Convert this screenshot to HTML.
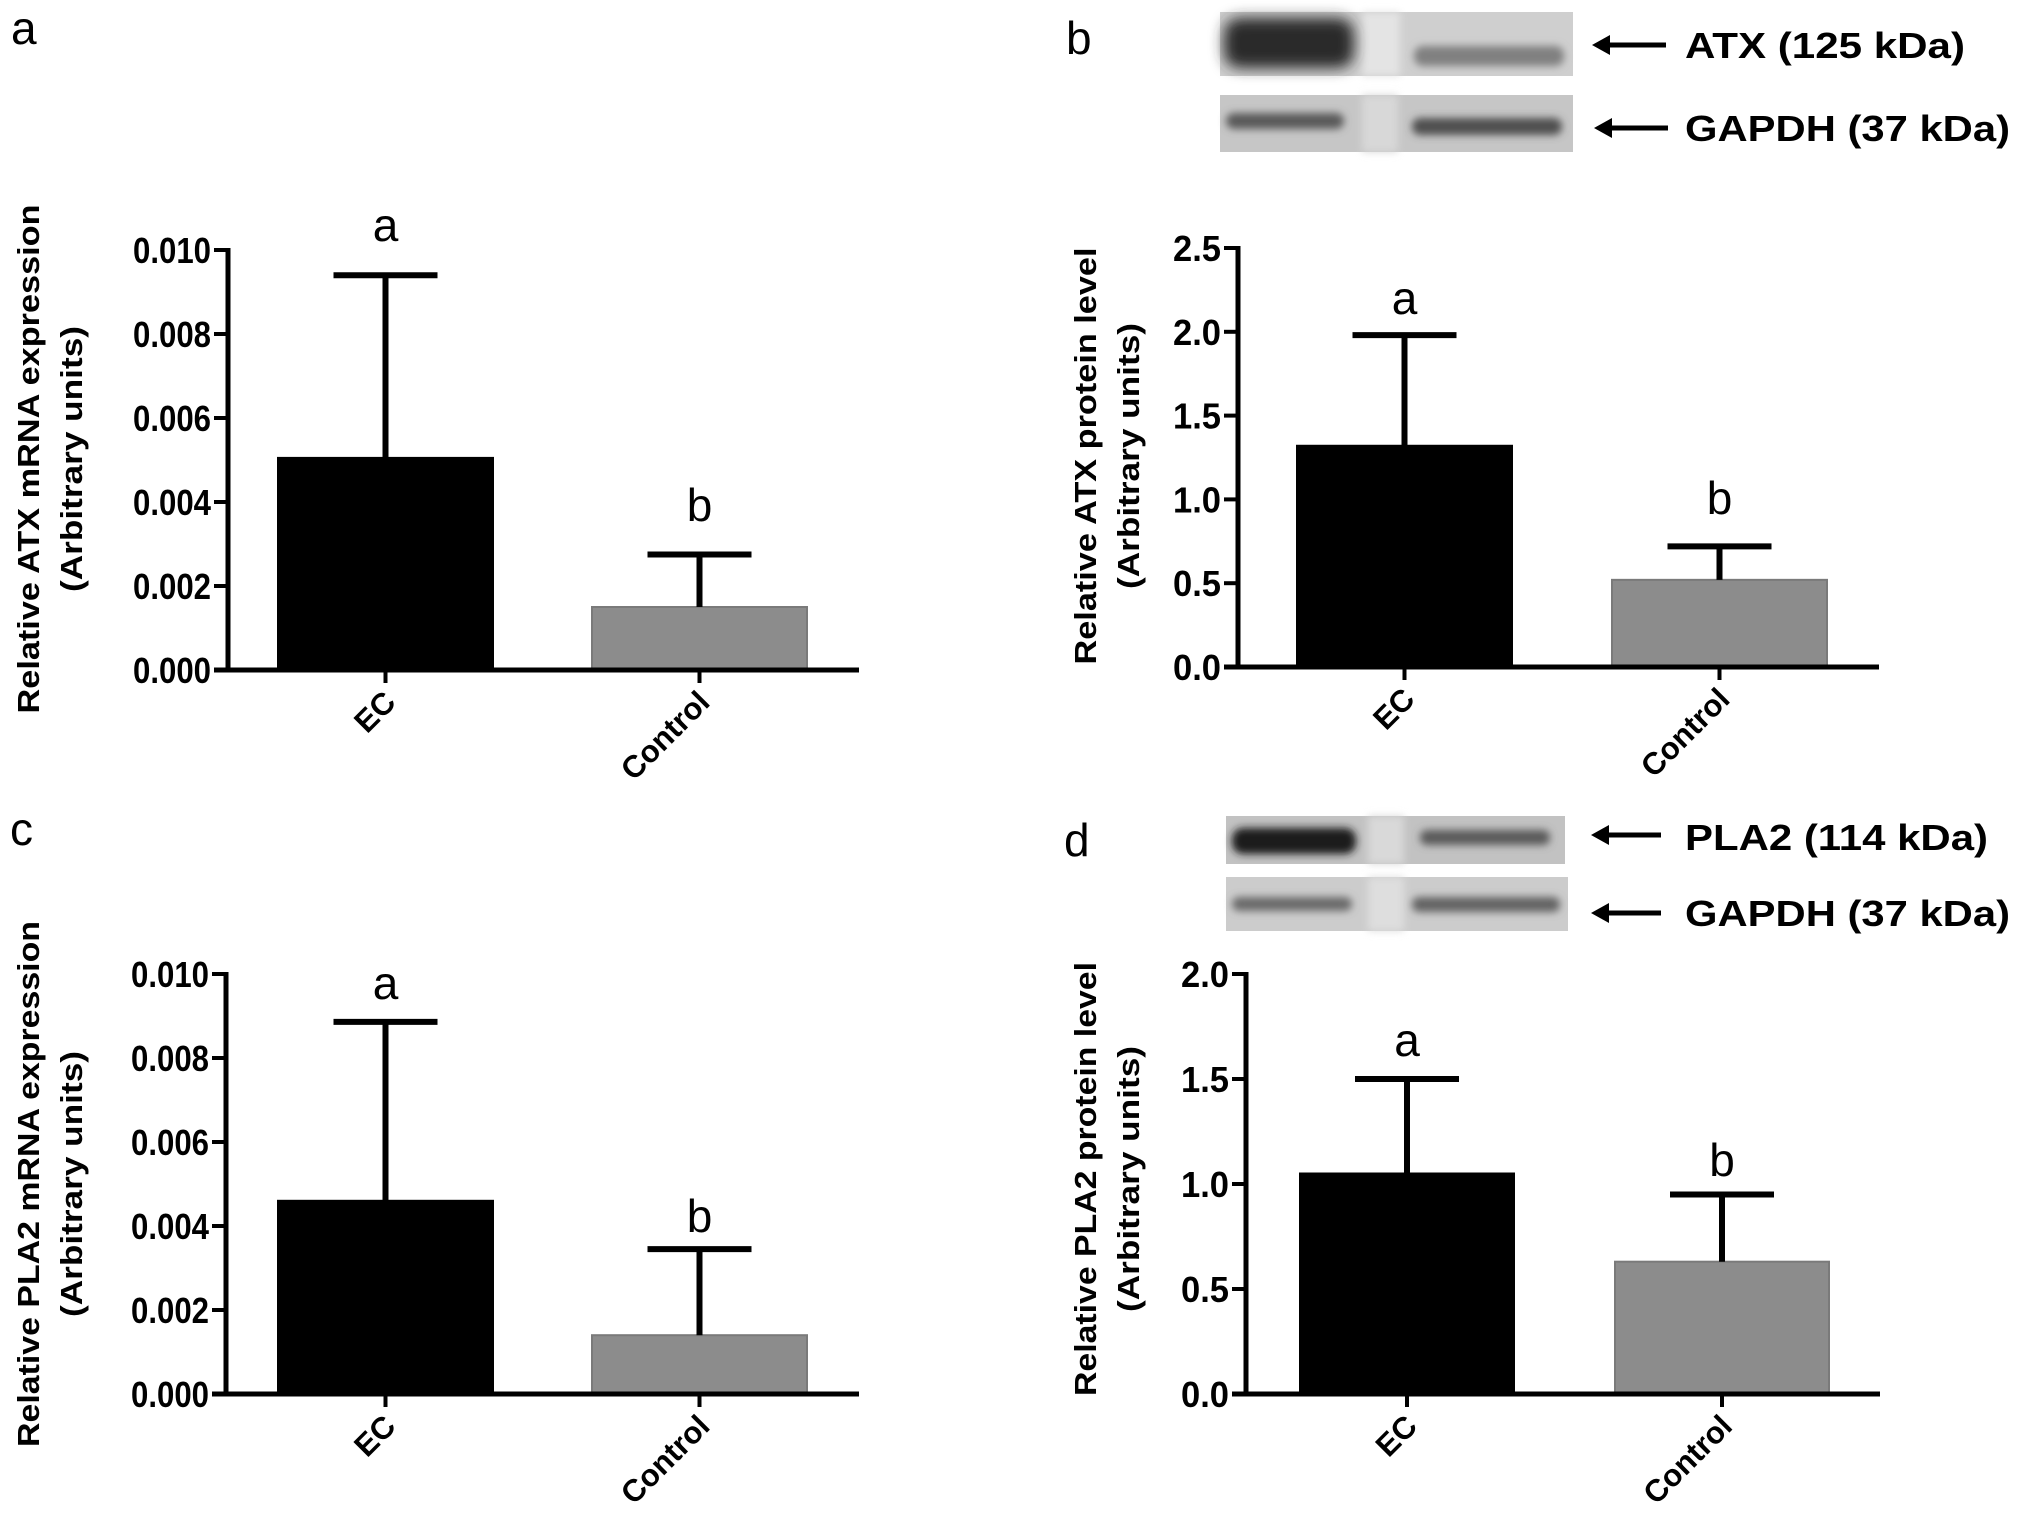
<!DOCTYPE html>
<html><head><meta charset="utf-8"><style>
html,body{margin:0;padding:0;background:#fff;}
svg{display:block;}
.tick{font-family:"Liberation Sans Narrow","Liberation Sans",sans-serif;font-weight:bold;font-size:36px;fill:#000;}
.ttl{font-family:"Liberation Sans",sans-serif;font-weight:bold;font-size:31px;fill:#000;}
.let{font-family:"Liberation Sans",sans-serif;font-size:46px;fill:#000;}
.blt{font-family:"Liberation Sans Narrow","Liberation Sans",sans-serif;font-weight:bold;font-size:36px;fill:#000;}
</style></head><body>
<svg id="fig" width="2031" height="1520" viewBox="0 0 2031 1520" xmlns="http://www.w3.org/2000/svg">
<defs>
<filter id="bl" x="-20%" y="-50%" width="140%" height="200%"><feGaussianBlur stdDeviation="7"/></filter>
<filter id="bl2" x="-20%" y="-80%" width="140%" height="260%"><feGaussianBlur stdDeviation="4"/></filter>
</defs>
<!-- Blots panel b -->
<g>
<rect x="1220" y="12" width="353" height="64" fill="#cfcfcf"/>
<rect x="1362" y="12" width="38" height="64" fill="#e4e4e4" filter="url(#bl2)"/>
<rect x="1224" y="18" width="130" height="50" rx="16" fill="#2a2a2a" filter="url(#bl)"/>
<rect x="1414" y="46" width="150" height="20" rx="9" fill="#808080" filter="url(#bl2)"/>
</g>
<g>
<rect x="1220" y="95" width="353" height="57" fill="#c6c6c6"/>
<rect x="1362" y="95" width="36" height="57" fill="#d8d8d8" filter="url(#bl2)"/>
<rect x="1226" y="113" width="118" height="16" rx="8" fill="#5a5a5a" filter="url(#bl2)"/>
<rect x="1412" y="118" width="150" height="17" rx="8" fill="#505050" filter="url(#bl2)"/>
</g>
<g><line x1="1604" y1="45" x2="1666" y2="45" stroke="#000" stroke-width="5"/><polygon points="1592,45 1610,35 1610,55" fill="#000"/></g>
<g><line x1="1606" y1="128" x2="1668" y2="128" stroke="#000" stroke-width="5"/><polygon points="1594,128 1612,118 1612,138" fill="#000"/></g>
<text class="blt" x="1685" y="58" textLength="280" lengthAdjust="spacingAndGlyphs">ATX (125 kDa)</text>
<text class="blt" x="1685" y="141" textLength="325" lengthAdjust="spacingAndGlyphs">GAPDH (37 kDa)</text>
<!-- Blots panel d -->
<g>
<rect x="1226" y="816" width="339" height="48" fill="#c2c2c2"/>
<rect x="1368" y="816" width="36" height="48" fill="#d9d9d9" filter="url(#bl2)"/>
<rect x="1232" y="828" width="124" height="26" rx="11" fill="#1e1e1e" filter="url(#bl2)"/>
<rect x="1420" y="830" width="130" height="15" rx="7" fill="#5a5a5a" filter="url(#bl2)"/>
</g>
<g>
<rect x="1226" y="877" width="342" height="54" fill="#cccccc"/>
<rect x="1368" y="877" width="36" height="54" fill="#dedede" filter="url(#bl2)"/>
<rect x="1232" y="897" width="120" height="14" rx="7" fill="#6a6a6a" filter="url(#bl2)"/>
<rect x="1412" y="897" width="148" height="15" rx="7" fill="#646464" filter="url(#bl2)"/>
</g>
<g><line x1="1603" y1="835" x2="1661" y2="835" stroke="#000" stroke-width="5"/><polygon points="1591,835 1609,825 1609,845" fill="#000"/></g>
<g><line x1="1603" y1="913" x2="1661" y2="913" stroke="#000" stroke-width="5"/><polygon points="1591,913 1609,903 1609,923" fill="#000"/></g>
<text class="blt" x="1685" y="850" textLength="303" lengthAdjust="spacingAndGlyphs">PLA2 (114 kDa)</text>
<text class="blt" x="1685" y="926" textLength="325" lengthAdjust="spacingAndGlyphs">GAPDH (37 kDa)</text>
<!-- Panel labels -->
<text class="let" x="11" y="44" font-size="50">a</text>
<text class="let" x="1066" y="54" font-size="50">b</text>
<text class="let" x="10" y="845" font-size="50">c</text>
<text class="let" x="1064" y="856" font-size="50">d</text>
<g id="charts"></g>
</svg>
<script>
const categories = ["EC", "Control"];
const sigLetters = ["a", "b"];
const aValues = [0.00505, 0.0015];
const aErrTop = [0.0094, 0.00275];
const aTicks = ["0.000","0.002","0.004","0.006","0.008","0.010"];
const bValues = [1.32, 0.52];
const bErrTop = [1.98, 0.72];
const bTicks = ["0.0","0.5","1.0","1.5","2.0","2.5"];
const cValues = [0.0046, 0.0014];
const cErrTop = [0.00886, 0.00345];
const cTicks = ["0.000","0.002","0.004","0.006","0.008","0.010"];
const dValues = [1.05, 0.63];
const dErrTop = [1.50, 0.95];
const dTicks = ["0.0","0.5","1.0","1.5","2.0"];

const NS = "http://www.w3.org/2000/svg";
const root = document.getElementById("charts");
function mk(tag, attrs, parent){ const e=document.createElementNS(NS,tag); for(const k in attrs) e.setAttribute(k,attrs[k]); (parent||root).appendChild(e); return e; }

function panel(p){
  const g = mk("g",{});
  
  
  const maxV = parseFloat(p.ticks[p.ticks.length-1]);
  const y = v => p.y0 - (v/maxV)*(p.y0-p.yTop);
  p.values.forEach((v,i)=>{
    const bx = p.barX[i];
    const r = mk("rect",{x:bx, y:y(v), width:p.barW, height:p.y0-y(v), fill:i===0?"#000":"#8c8c8c", stroke:i===0?"#000":"#7a7a7a","stroke-width":2}, g);
    
    
    const cx = bx + p.barW/2;
    const el = mk("path",{d:`M${cx},${y(v)} V${y(p.err[i])} M${cx-52},${y(p.err[i])} H${cx+52}`, stroke:"#000","stroke-width":6, fill:"none"}, g);
    
    
    const lt = mk("text",{x:cx, y:p.letY[i], "text-anchor":"middle", class:"let"}, g);
    lt.textContent = sigLetters[i];
    
    
    const tx = cx;
    const t = mk("line",{x1:tx,y1:p.y0,x2:tx,y2:p.y0+13,stroke:"#000","stroke-width":4}, g);
    
    
    const xl = mk("text",{x:0,y:0,"text-anchor":"end",class:"ttl","font-size":"30",transform:`translate(${tx+12},${p.y0+34}) rotate(-45)`}, g);
    xl.textContent = categories[i];
    
    
  });
  const ya = mk("line",{x1:p.ax,y1:p.yTop-2,x2:p.ax,y2:p.y0+2,stroke:"#000","stroke-width":5}, g);
  
  
  const xa = mk("line",{x1:p.ax-14,y1:p.y0,x2:p.xEnd,y2:p.y0,stroke:"#000","stroke-width":5}, g);
  
  
  p.ticks.forEach(tk=>{
    const ty = y(parseFloat(tk));
    const l = mk("line",{x1:p.ax-14,y1:ty,x2:p.ax,y2:ty,stroke:"#000","stroke-width":4}, g);
    
    
    const tt = mk("text",{x:p.ax-17,y:ty+13,"text-anchor":"end",class:"tick",textLength:tk.length>3?78:48,lengthAdjust:"spacingAndGlyphs"}, g);
    tt.textContent = tk;
    
    
  });
  const t1 = mk("text",{x:0,y:0,"text-anchor":"middle",class:"ttl",textLength:p.tLen,lengthAdjust:"spacingAndGlyphs",transform:`translate(${p.t1x},${p.tCy}) rotate(-90)`}, g);
  t1.textContent = p.title;
  
  
  const t2 = mk("text",{x:0,y:0,"text-anchor":"middle",class:"ttl","font-size":"33",textLength:266,lengthAdjust:"spacingAndGlyphs",transform:`translate(${p.t1x+43},${p.tCy}) rotate(-90)`}, g);
  t2.textContent = "(Arbitrary  units)";
  
  
}
panel({id:"a",values:aValues,err:aErrTop,ticks:aTicks,ax:228,y0:670,yTop:250,xEnd:859,barX:[278,592],barW:215,letY:[241,521],title:"Relative ATX mRNA expression",t1x:39,tCy:459,tLen:509});
panel({id:"b",values:bValues,err:bErrTop,ticks:bTicks,ax:1238,y0:667,yTop:248,xEnd:1879,barX:[1297,1612],barW:215,letY:[314,514],title:"Relative ATX protein level",t1x:1096,tCy:456,tLen:417});
panel({id:"c",values:cValues,err:cErrTop,ticks:cTicks,ax:226,y0:1394,yTop:974,xEnd:859,barX:[278,592],barW:215,letY:[999,1232],title:"Relative PLA2 mRNA expression",t1x:39,tCy:1184,tLen:526});
panel({id:"d",values:dValues,err:dErrTop,ticks:dTicks,ax:1246,y0:1394,yTop:974,xEnd:1880,barX:[1300,1615],barW:214,letY:[1056,1176],title:"Relative PLA2 protein level",t1x:1096,tCy:1179,tLen:434});
</script>
</body></html>
